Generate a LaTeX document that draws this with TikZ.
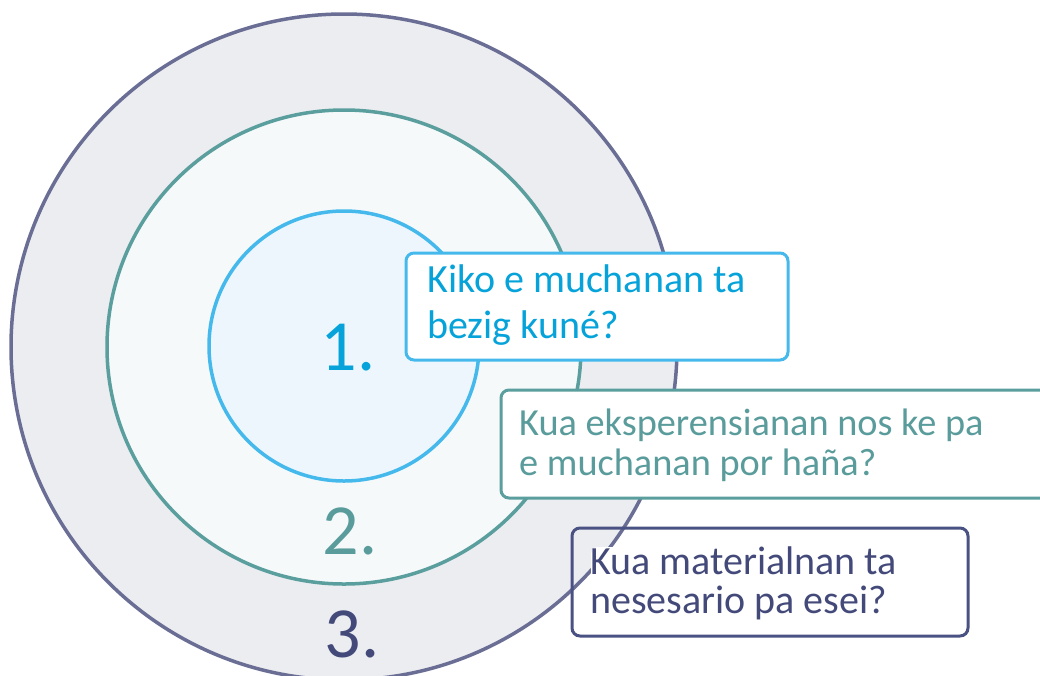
\documentclass[tikz,border=0pt]{standalone}
\usepackage{fontspec}
\setmainfont{Carlito}
\definecolor{outerln}{HTML}{6A6E95}
\definecolor{outerfl}{HTML}{ECEDF1}
\definecolor{midln}{HTML}{5B9E9E}
\definecolor{midfl}{HTML}{F5F9FA}
\definecolor{innln}{HTML}{46B9EC}
\definecolor{innfl}{HTML}{EEF6FD}
\definecolor{txtone}{HTML}{06A3DA}
\definecolor{txttwo}{HTML}{5A9C9B}
\definecolor{txtthree}{HTML}{434A7A}
\definecolor{boxthree}{HTML}{4A5183}
\begin{document}
\begin{tikzpicture}[x=1pt,y=-1pt,
  ring/.style={circle,line width=3.5pt,inner sep=0pt},
  qbox/.style={rectangle,rounded corners=8pt,line width=3pt,inner sep=0pt},
  numlbl/.style={font=\fontsize{72}{72}\selectfont,inner sep=0pt},
  qtext/.style={align=left,inner sep=0pt,anchor=base west}]
\useasboundingbox (0,0) rectangle (1040,675);
\clip (0,0) rectangle (1040,675);
\node[ring,draw=outerln,fill=outerfl,minimum size=666pt] (outer) at (344,347) {};
\node[ring,draw=midln,fill=midfl,minimum size=474pt] (mid) at (344,347) {};
\node[ring,draw=innln,fill=innfl,minimum size=270pt] (inner) at (344,346) {};
\node[numlbl,text=txtone] (n1) at (348,348) {1.};
\node[numlbl,text=txttwo] (n2) at (350,531) {2.};
\node[numlbl,text=txtthree] (n3) at (352,634) {3.};
% box 1
\node[qbox,draw=innln,fill=white,minimum width=382pt,minimum height=107pt] (b1) at (597,306.5) {};
\node[qtext,text=txtone,font=\fontsize{40}{46}\selectfont] (t1) at (427,338) {Kiko e muchanan ta\\bezig kuné?};
% box 2
\node[qbox,draw=midln,fill=white,minimum width=560pt,minimum height=108pt] (b2) at (781,444) {};
\node[qtext,text=txttwo,font=\fontsize{38.3}{40}\selectfont] (t2) at (519,475) {Kua eksperensianan nos ke pa\\e muchanan por haña?};
% box 3
\node[qbox,draw=boxthree,minimum width=396pt,minimum height=108pt] (b3) at (770,582) {};
\node[rectangle,rounded corners=6pt,fill=white,minimum width=360pt,minimum height=80pt,anchor=north west] (t3bg) at (591,547) {};
\node[qtext,text=txtthree,font=\fontsize{40}{39}\selectfont] (t3) at (590,613) {Kua materialnan ta\\nesesario pa esei?};
\end{tikzpicture}
\end{document}
